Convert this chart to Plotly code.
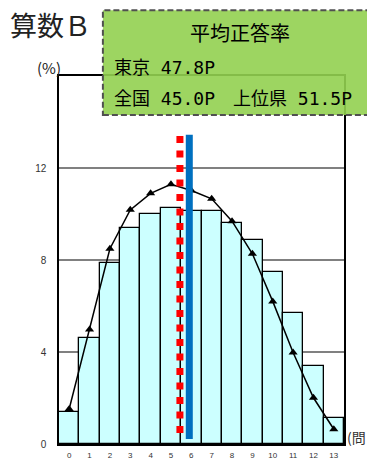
import plotly.graph_objects as go

# Distribution of the number of correct answers (percentage of pupils)
questions = list(range(14))
tick_labels = [str(q) for q in questions]
tokyo_pct = [1.40, 4.61, 7.88, 9.38, 9.98, 10.28, 10.11, 10.11, 9.59, 8.89, 7.49, 5.70, 3.40, 1.11]
national_pct = [1.52, 4.98, 8.49, 10.18, 10.90, 11.29, 11.02, 10.66, 9.69, 8.27, 6.20, 3.98, 2.01, 0.64]

# Mean lines, in question-count units on the x axis
national_mean_x = 5.44
national_mean_y = [0.48, 13.4]
tokyo_mean_x = 5.90
tokyo_mean_y = [0.22, 13.45]

y_ticks = [0, 4, 8, 12]

title_text = "算数Ｂ"
box_title = "平均正答率"
box_line1 = "東京 47.8P"
box_line2 = "全国 45.0P　上位県 51.5P"

fig = go.Figure()

fig.add_trace(go.Bar(
    x=questions, y=tokyo_pct,
    marker=dict(color="#CCFFFF", line=dict(color="black", width=1.3)),
    width=1.0, hoverinfo="skip",
))

fig.add_trace(go.Scatter(
    x=questions, y=national_pct, mode="lines+markers",
    line=dict(color="black", width=1.5),
    marker=dict(symbol="triangle-up", size=8, color="black"),
    hoverinfo="skip",
))

fig.add_trace(go.Scatter(
    x=[national_mean_x, national_mean_x], y=national_mean_y, mode="lines",
    line=dict(color="#FF0000", width=7, dash="7px,7.5px"),
    hoverinfo="skip",
))

fig.add_trace(go.Scatter(
    x=[tokyo_mean_x, tokyo_mean_x], y=tokyo_mean_y, mode="lines",
    line=dict(color="#0070C0", width=7),
    hoverinfo="skip",
))

# Green summary panel with a dashed border
fig.add_shape(
    type="rect", xref="paper", yref="paper",
    x0=0.154, x1=1.12, y0=0.894, y1=1.179,
    fillcolor="rgba(146,208,80,0.9)",
    line=dict(color="#505050", width=2, dash="6px,3px"),
    layer="above",
)

cjk = "Noto Sans CJK JP"
mono_cjk = "DejaVu Sans Mono, Noto Sans CJK JP"
fig.add_annotation(xref="paper", yref="paper", x=0.635, y=1.117, text=box_title,
                   showarrow=False, xanchor="center", yanchor="middle",
                   font=dict(family=cjk, size=20, color="black"))
fig.add_annotation(xref="paper", yref="paper", x=0.187, y=1.024, text=box_line1,
                   showarrow=False, xanchor="left", yanchor="middle",
                   font=dict(family=mono_cjk, size=18, color="black"))
fig.add_annotation(xref="paper", yref="paper", x=0.187, y=0.940, text=box_line2,
                   showarrow=False, xanchor="left", yanchor="middle",
                   font=dict(family=mono_cjk, size=18, color="black"))

fig.add_annotation(xref="paper", yref="paper", x=-0.178, y=1.139, text=title_text,
                   showarrow=False, xanchor="left", yanchor="middle",
                   font=dict(family=cjk, size=27, color="#222222"))
fig.add_annotation(xref="paper", yref="paper", x=-0.036, y=1.022, text="(%)",
                   showarrow=False, xanchor="center", yanchor="middle",
                   font=dict(family=cjk, size=15, color="#222222"))
fig.add_annotation(xref="paper", yref="paper", x=1.005, y=0.018, text="(問",
                   showarrow=False, xanchor="left", yanchor="middle",
                   font=dict(family=cjk, size=14, color="#333333"))

fig.update_layout(
    width=367, height=459,
    margin=dict(l=59, r=23, t=76, b=15, autoexpand=False),
    paper_bgcolor="white", plot_bgcolor="white",
    showlegend=False, bargap=0,
)
fig.update_xaxes(
    range=[-0.5, 13.5], tickvals=questions, ticktext=tick_labels,
    showgrid=False, ticks="", showline=True, linecolor="black", linewidth=1.5,
    mirror=True, ticklabelstandoff=3, automargin=False,
    tickfont=dict(family="Liberation Sans", size=8, color="#333333"),
)
fig.update_yaxes(
    range=[0, 16], tickvals=y_ticks, showgrid=True, gridcolor="#808080", gridwidth=1.5,
    ticks="", showline=True, linecolor="black", linewidth=1.5, mirror=True,
    zeroline=False, ticklabelstandoff=9, automargin=False,
    tickfont=dict(family="Liberation Sans", size=10, color="#333333"),
)

fig.write_html("out.html")
